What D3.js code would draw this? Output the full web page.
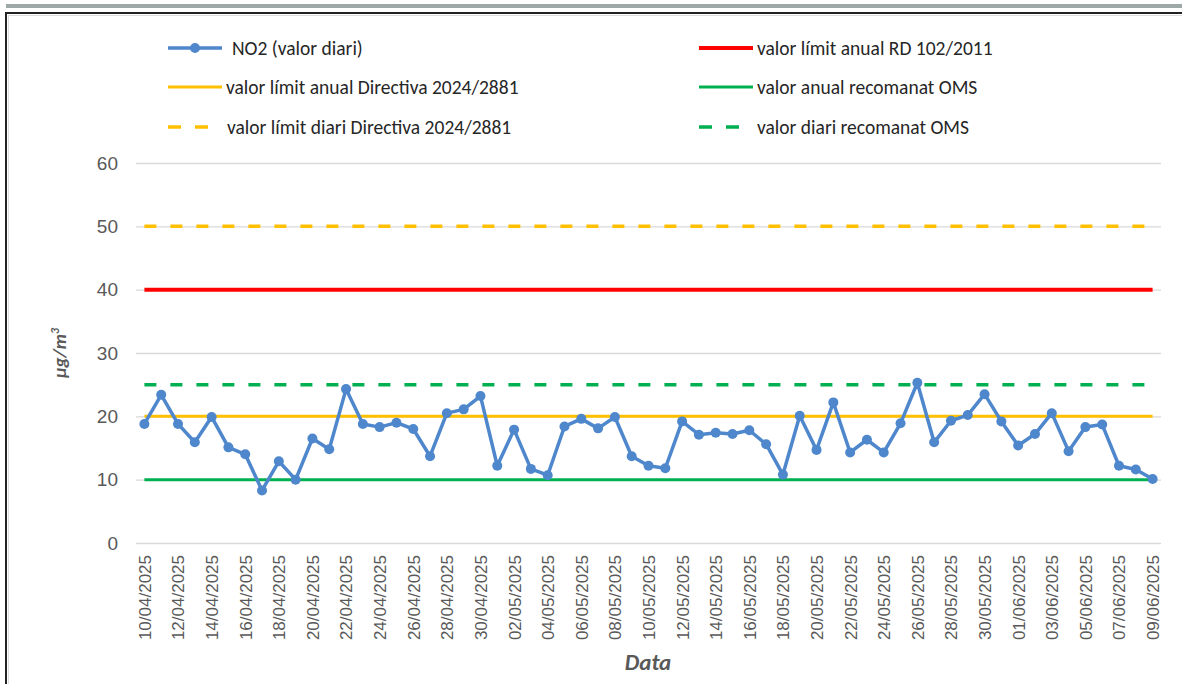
<!DOCTYPE html>
<html>
<head>
<meta charset="utf-8">
<script src="https://cdn.jsdelivr.net/npm/d3@7"></script>
<style>
  body { margin: 0; background: #fff; }
  svg { display: block; font-family: Carlito, "Liberation Sans", Arial, sans-serif; }
</style>
</head>
<body>
<div id="chart"></div>
<script>
// daily dates (categories)
const dates = [
  "10/04/2025","11/04/2025","12/04/2025","13/04/2025","14/04/2025","15/04/2025","16/04/2025",
  "17/04/2025","18/04/2025","19/04/2025","20/04/2025","21/04/2025","22/04/2025","23/04/2025",
  "24/04/2025","25/04/2025","26/04/2025","27/04/2025","28/04/2025","29/04/2025","30/04/2025",
  "01/05/2025","02/05/2025","03/05/2025","04/05/2025","05/05/2025","06/05/2025","07/05/2025",
  "08/05/2025","09/05/2025","10/05/2025","11/05/2025","12/05/2025","13/05/2025","14/05/2025",
  "15/05/2025","16/05/2025","17/05/2025","18/05/2025","19/05/2025","20/05/2025","21/05/2025",
  "22/05/2025","23/05/2025","24/05/2025","25/05/2025","26/05/2025","27/05/2025","28/05/2025",
  "29/05/2025","30/05/2025","31/05/2025","01/06/2025","02/06/2025","03/06/2025","04/06/2025",
  "05/06/2025","06/06/2025","07/06/2025","08/06/2025","09/06/2025"
];

// NO2 daily value (ug/m3)
const no2 = [
  18.8, 23.4, 18.8, 15.9, 19.9, 15.1, 14.0, 8.3, 12.9, 10.0,
  16.5, 14.8, 24.3, 18.8, 18.3, 19.0, 18.0, 13.7, 20.5, 21.1,
  23.2, 12.2, 17.9, 11.7, 10.7, 18.4, 19.6, 18.1, 19.9, 13.7,
  12.2, 11.8, 19.2, 17.1, 17.4, 17.2, 17.8, 15.6, 10.8, 20.1,
  14.7, 22.2, 14.3, 16.3, 14.3, 18.9, 25.3, 15.9, 19.3, 20.2,
  23.5, 19.2, 15.4, 17.2, 20.5, 14.5, 18.3, 18.7, 12.2, 11.6,
  10.1
];

// reference limits, in legend order
const limitNames = [
  "valor límit anual RD 102/2011",
  "valor límit anual Directiva 2024/2881",
  "valor anual recomanat OMS",
  "valor límit diari Directiva 2024/2881",
  "valor diari recomanat OMS"
];
const limitValues = [40, 20, 10, 50, 25];

const yTicks = [0, 10, 20, 30, 40, 50, 60];

// styles for each limit line (same order as above)
const limitColors = ["#ff0000", "#ffc000", "#00b050", "#ffc000", "#00b050"];
const limitWidths = [4, 3, 3, 3.5, 3.5];
const limitDashed = [false, false, false, true, true];

const W = 1182, H = 684;
const margin = { top: 163, right: 21, bottom: 141, left: 136 };

const svg = d3.select("#chart").append("svg")
  .attr("width", W)
  .attr("height", H);

// frame like the screenshot
svg.append("rect")
  .attr("x", 6).attr("y", 4)
  .attr("width", W - 6).attr("height", 4)
  .attr("fill", "#9ea8a6");
svg.append("path")
  .attr("d", `M6,${H} V13 H${W}`)
  .attr("fill", "none")
  .attr("stroke", "#222")
  .attr("stroke-width", 2);
svg.append("path")
  .attr("d", `M8.5,${H} V15.5 H${W}`)
  .attr("fill", "none")
  .attr("stroke", "#ddd")
  .attr("stroke-width", 1);

const x = d3.scalePoint()
  .domain(dates)
  .range([margin.left, W - margin.right])
  .padding(0.5);

const y = d3.scaleLinear()
  .domain([0, 60])
  .range([H - margin.bottom, margin.top]);

// y grid + labels
const yAxis = svg.append("g")
  .attr("transform", `translate(${margin.left},0)`)
  .call(d3.axisLeft(y).tickValues(yTicks).tickSize(-(W - margin.left - margin.right)).tickPadding(18));
yAxis.select(".domain").remove();
yAxis.selectAll(".tick line").attr("stroke", "#d9d9d9").attr("stroke-width", 1.3);
yAxis.selectAll(".tick text")
  .attr("fill", "#595959")
  .style("font-size", "19px")
  .style("font-family", "inherit");

// x axis labels, every other day
const xAxis = svg.append("g")
  .attr("transform", `translate(0,${y(0)})`)
  .call(d3.axisBottom(x).tickValues(dates.filter((d, i) => i % 2 === 0)).tickSize(0));
xAxis.select(".domain").remove();
xAxis.selectAll(".tick text")
  .attr("fill", "#595959")
  .style("font-size", "17px")
  .style("font-family", "inherit")
  .attr("transform", "rotate(-90)")
  .attr("text-anchor", "end")
  .attr("x", -12)
  .attr("y", 0)
  .attr("dy", "0.35em");

// limit lines
limitValues.forEach(function (v, i) {
  svg.append("line")
    .attr("x1", x(dates[0]))
    .attr("x2", x(dates[dates.length - 1]))
    .attr("y1", y(v))
    .attr("y2", y(v))
    .attr("stroke", limitColors[i])
    .attr("stroke-width", limitWidths[i])
    .attr("stroke-dasharray", limitDashed[i] ? "12,14" : null);
});

// NO2 line + markers
const line = d3.line()
  .x((d, i) => x(dates[i]))
  .y(d => y(d));

svg.append("path")
  .datum(no2)
  .attr("fill", "none")
  .attr("stroke", "#4f87cc")
  .attr("stroke-width", 3.5)
  .attr("stroke-linejoin", "round")
  .attr("d", line);

svg.append("g")
  .selectAll("circle")
  .data(no2)
  .enter().append("circle")
  .attr("cx", (d, i) => x(dates[i]))
  .attr("cy", d => y(d))
  .attr("r", 5)
  .attr("fill", "#4f87cc");

// axis titles
svg.append("text")
  .attr("transform", `translate(66,${y(30)}) rotate(-90)`)
  .attr("text-anchor", "middle")
  .attr("fill", "#595959")
  .style("font-size", "19px")
  .style("font-weight", "bold")
  .style("font-style", "italic")
  .html('µg/m<tspan dy="-7" style="font-size:12px">3</tspan>');

svg.append("text")
  .attr("x", 648)
  .attr("y", 670)
  .attr("text-anchor", "middle")
  .attr("fill", "#595959")
  .style("font-size", "23px")
  .style("font-weight", "bold")
  .style("font-style", "italic")
  .text("Data");

// legend
const legend = svg.append("g").style("font-size", "19.5px");
const leg = [
  { name: "NO2 (valor diari)", x: 168, y: 48, tx: 232, no2: true },
  { name: limitNames[0], x: 699, y: 48, tx: 757, k: 0 },
  { name: limitNames[1], x: 168, y: 87, tx: 226, k: 1 },
  { name: limitNames[2], x: 699, y: 87, tx: 757, k: 2 },
  { name: limitNames[3], x: 168, y: 127, tx: 227, k: 3 },
  { name: limitNames[4], x: 699, y: 127, tx: 757, k: 4 }
];
leg.forEach(function (d) {
  if (d.no2) {
    legend.append("line")
      .attr("x1", d.x).attr("x2", d.x + 54)
      .attr("y1", d.y).attr("y2", d.y)
      .attr("stroke", "#4f87cc").attr("stroke-width", 3.5);
    legend.append("circle")
      .attr("cx", d.x + 27).attr("cy", d.y).attr("r", 5)
      .attr("fill", "#4f87cc");
  } else {
    legend.append("line")
      .attr("x1", d.x).attr("x2", d.x + 54)
      .attr("y1", d.y).attr("y2", d.y)
      .attr("stroke", limitColors[d.k])
      .attr("stroke-width", limitWidths[d.k])
      .attr("stroke-dasharray", limitDashed[d.k] ? "13,14" : null);
  }
  legend.append("text")
    .attr("x", d.tx)
    .attr("y", d.y)
    .attr("dy", "0.35em")
    .attr("fill", "#262626")
    .text(d.name);
});
</script>
</body>
</html>
